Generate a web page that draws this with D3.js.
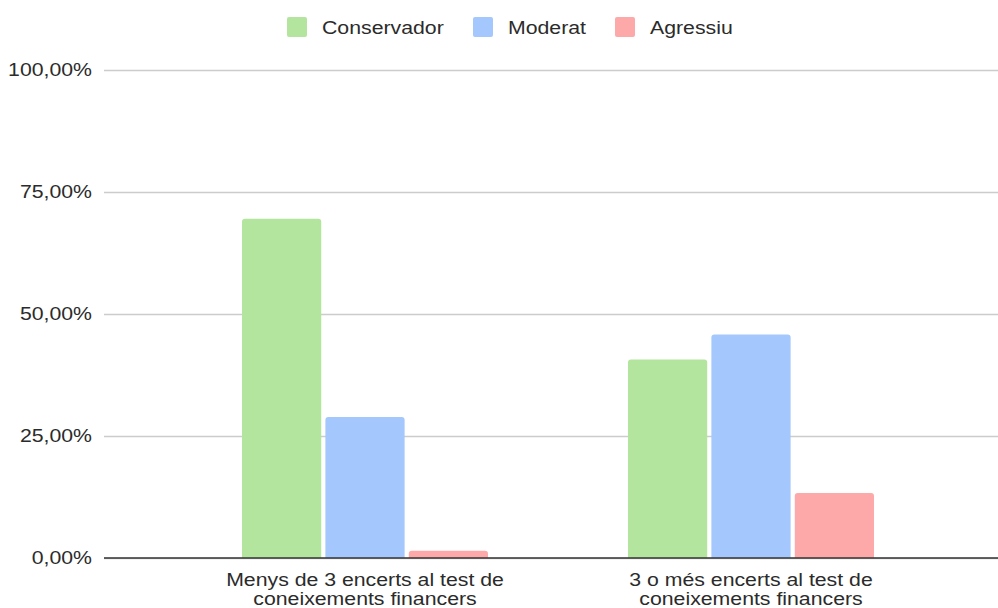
<!DOCTYPE html>
<html><head><meta charset="utf-8">
<script src="https://cdn.jsdelivr.net/npm/d3@7"></script>
<style>body{margin:0;background:#fff}svg{display:block}</style>
</head><body><svg id="c" width="998" height="608"></svg>
<script>
const categories = [["Menys de 3 encerts al test de","coneixements financers"],["3 o més encerts al test de","coneixements financers"]];
const seriesNames = ["Conservador","Moderat","Agressiu"];
const conservador = [69.5, 40.7];
const moderat = [28.9, 45.8];
const agressiu = [1.5, 13.3];
const yTicks = [0,25,50,75,100];
const colors = ["#b3e59e","#a4c8fd","#fea9a9"];

const seriesVals = [conservador, moderat, agressiu];
const svg = d3.select("#c");
const font = "Arial, 'Liberation Sans', sans-serif";
const fs = 18.5, sx = 1.15;
const y = d3.scaleLinear().domain([0,100]).range([558,70]);
const x0 = d3.scaleBand().domain(d3.range(categories.length)).range([172,944]);
const x1 = d3.scaleBand().domain(d3.range(seriesNames.length)).range([0, 246]).paddingInner(0.05);

// gridlines + y labels
const yAxis = d3.axisLeft(y).tickValues(yTicks).tickSize(-(998-104)).tickPadding(12)
  .tickFormat(d => d.toFixed(2).replace(".", ",") + "%");
const ga = svg.append("g").attr("transform","translate(104,0)").call(yAxis);
ga.select(".domain").remove();
ga.selectAll(".tick line").attr("stroke","#cccccc").attr("stroke-width",1.3);
ga.selectAll(".tick text").attr("font-family",font).attr("font-size",fs).attr("fill","#2b2b2b")
  .attr("x",0).attr("transform",`translate(-12,0) scale(${sx},1)`);

// bars
const data = [];
categories.forEach((c,i)=>seriesVals.forEach((s,j)=>data.push({i,j,v:s[i]})));
svg.append("g").selectAll("path").data(data).join("path")
  .attr("fill", d=>colors[d.j])
  .attr("d", d=>{
    const x = x0(d.i) + (x0.bandwidth()-246)/2 + x1(d.j);
    const w = x1.bandwidth();
    const top = y(d.v), bot = y(0), r = Math.min(3, (bot-top));
    return `M${x},${bot}V${top+r}Q${x},${top} ${x+r},${top}H${x+w-r}Q${x+w},${top} ${x+w},${top+r}V${bot}Z`;
  });

// baseline
svg.append("line").attr("x1",104).attr("x2",998).attr("y1",y(0)).attr("y2",y(0))
  .attr("stroke","#333").attr("stroke-width",1.3);

// x labels
const xl = svg.append("g");
categories.forEach((c,i)=>{
  const t = xl.append("text").attr("text-anchor","middle").attr("font-family",font)
    .attr("font-size",fs).attr("fill","#2b2b2b")
    .attr("transform",`translate(${x0(i)+x0.bandwidth()/2},585.5) scale(${sx},1)`);
  c.forEach((line,k)=>t.append("tspan").attr("x",0).attr("y", k*20).text(line));
});

// legend
const legX = [287, 473, 615];
const lg = svg.append("g");
seriesNames.forEach((n,j)=>{
  lg.append("rect").attr("x",legX[j]).attr("y",17).attr("width",20).attr("height",20).attr("rx",2).attr("fill",colors[j]);
  lg.append("text").attr("font-family",font).attr("font-size",fs).attr("fill","#2b2b2b")
    .attr("transform",`translate(${legX[j]+35},34) scale(${sx},1)`).text(n);
});
</script></body></html>
